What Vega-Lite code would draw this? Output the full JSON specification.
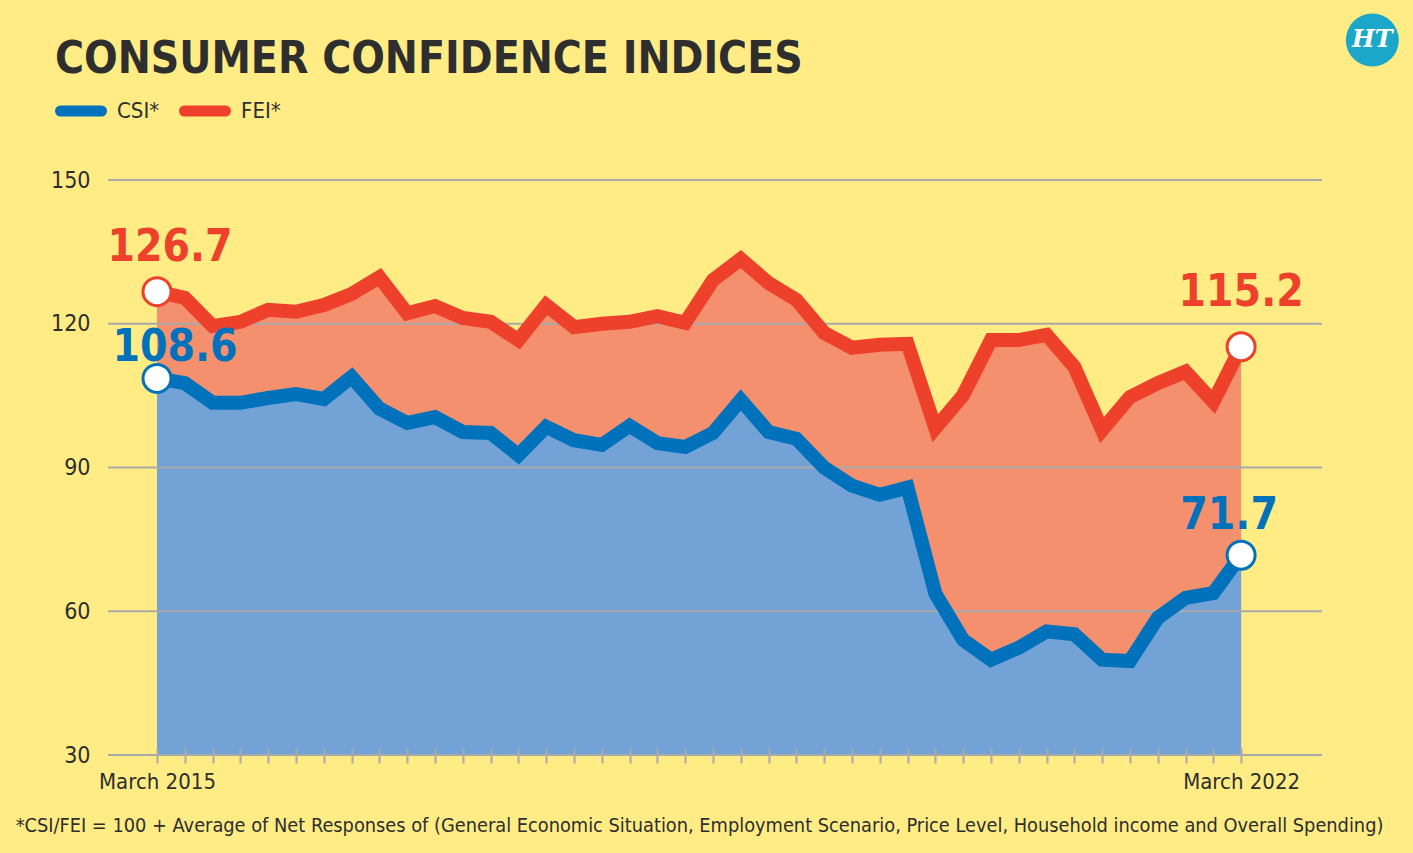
{
  "$schema": "https://vega.github.io/schema/vega-lite/v6.json",
  "width": 1214,
  "height": 575,
  "autosize": {"type": "none"},
  "padding": {"left": 108, "top": 180, "right": 91, "bottom": 98},
  "background": "#FFEC85",
  "config": {
    "view": {"stroke": null},
    "font": "Liberation Sans Narrow, DejaVu Sans Condensed, sans-serif"
  },
  "title": {
    "text": "CONSUMER CONFIDENCE INDICES",
    "anchor": "start",
    "frame": "group",
    "dx": -53,
    "offset": 0,
    "dy": 103,
    "baseline": "alphabetic",
    "font": "Liberation Sans Narrow, DejaVu Sans Condensed, sans-serif",
    "fontSize": 44,
    "fontWeight": "bold",
    "color": "#2e2e2e"
  },
  "resolve": {"axis": {"x": "independent", "y": "independent"}},
  "data": {
    "values": [
      {"i": 0, "series": "CSI*", "value": 108.6}, {"i": 0, "series": "FEI*", "value": 126.7},
      {"i": 1, "series": "CSI*", "value": 107.6}, {"i": 1, "series": "FEI*", "value": 125.4},
      {"i": 2, "series": "CSI*", "value": 103.5}, {"i": 2, "series": "FEI*", "value": 119.5},
      {"i": 3, "series": "CSI*", "value": 103.5}, {"i": 3, "series": "FEI*", "value": 120.4},
      {"i": 4, "series": "CSI*", "value": 104.5}, {"i": 4, "series": "FEI*", "value": 122.9},
      {"i": 5, "series": "CSI*", "value": 105.3}, {"i": 5, "series": "FEI*", "value": 122.5},
      {"i": 6, "series": "CSI*", "value": 104.3}, {"i": 6, "series": "FEI*", "value": 123.9},
      {"i": 7, "series": "CSI*", "value": 108.9}, {"i": 7, "series": "FEI*", "value": 126.2},
      {"i": 8, "series": "CSI*", "value": 102.3}, {"i": 8, "series": "FEI*", "value": 129.7},
      {"i": 9, "series": "CSI*", "value": 99.3}, {"i": 9, "series": "FEI*", "value": 122.2},
      {"i": 10, "series": "CSI*", "value": 100.5}, {"i": 10, "series": "FEI*", "value": 123.7},
      {"i": 11, "series": "CSI*", "value": 97.4}, {"i": 11, "series": "FEI*", "value": 121.2},
      {"i": 12, "series": "CSI*", "value": 97.2}, {"i": 12, "series": "FEI*", "value": 120.4},
      {"i": 13, "series": "CSI*", "value": 92.6}, {"i": 13, "series": "FEI*", "value": 116.6},
      {"i": 14, "series": "CSI*", "value": 98.5}, {"i": 14, "series": "FEI*", "value": 123.9},
      {"i": 15, "series": "CSI*", "value": 95.7}, {"i": 15, "series": "FEI*", "value": 119.3},
      {"i": 16, "series": "CSI*", "value": 94.7}, {"i": 16, "series": "FEI*", "value": 120.0},
      {"i": 17, "series": "CSI*", "value": 98.7}, {"i": 17, "series": "FEI*", "value": 120.4},
      {"i": 18, "series": "CSI*", "value": 95.1}, {"i": 18, "series": "FEI*", "value": 121.6},
      {"i": 19, "series": "CSI*", "value": 94.3}, {"i": 19, "series": "FEI*", "value": 120.2},
      {"i": 20, "series": "CSI*", "value": 97.2}, {"i": 20, "series": "FEI*", "value": 129.1},
      {"i": 21, "series": "CSI*", "value": 104.1}, {"i": 21, "series": "FEI*", "value": 133.5},
      {"i": 22, "series": "CSI*", "value": 97.4}, {"i": 22, "series": "FEI*", "value": 128.5},
      {"i": 23, "series": "CSI*", "value": 96.0}, {"i": 23, "series": "FEI*", "value": 125.0},
      {"i": 24, "series": "CSI*", "value": 90.0}, {"i": 24, "series": "FEI*", "value": 118.1},
      {"i": 25, "series": "CSI*", "value": 86.2}, {"i": 25, "series": "FEI*", "value": 115.0},
      {"i": 26, "series": "CSI*", "value": 84.3}, {"i": 26, "series": "FEI*", "value": 115.6},
      {"i": 27, "series": "CSI*", "value": 85.8}, {"i": 27, "series": "FEI*", "value": 115.8},
      {"i": 28, "series": "CSI*", "value": 63.7}, {"i": 28, "series": "FEI*", "value": 98.2},
      {"i": 29, "series": "CSI*", "value": 54.0}, {"i": 29, "series": "FEI*", "value": 105.1},
      {"i": 30, "series": "CSI*", "value": 49.9}, {"i": 30, "series": "FEI*", "value": 116.6},
      {"i": 31, "series": "CSI*", "value": 52.4}, {"i": 31, "series": "FEI*", "value": 116.6},
      {"i": 32, "series": "CSI*", "value": 55.8}, {"i": 32, "series": "FEI*", "value": 117.7},
      {"i": 33, "series": "CSI*", "value": 55.2}, {"i": 33, "series": "FEI*", "value": 111.0},
      {"i": 34, "series": "CSI*", "value": 49.9}, {"i": 34, "series": "FEI*", "value": 97.8},
      {"i": 35, "series": "CSI*", "value": 49.6}, {"i": 35, "series": "FEI*", "value": 104.7},
      {"i": 36, "series": "CSI*", "value": 58.6}, {"i": 36, "series": "FEI*", "value": 107.6},
      {"i": 37, "series": "CSI*", "value": 62.8}, {"i": 37, "series": "FEI*", "value": 110.0},
      {"i": 38, "series": "CSI*", "value": 63.8}, {"i": 38, "series": "FEI*", "value": 103.7},
      {"i": 39, "series": "CSI*", "value": 71.7}, {"i": 39, "series": "FEI*", "value": 115.2}
    ]
  },
  "layer": [
    {
      "encoding": {
        "x": {
          "field": "i",
          "type": "quantitative",
          "scale": {"domain": [-1.763, 41.91], "nice": false, "zero": false},
          "axis": {
            "values": [0,1,2,3,4,5,6,7,8,9,10,11,12,13,14,15,16,17,18,19,20,21,22,23,24,25,26,27,28,29,30,31,32,33,34,35,36,37,38,39],
            "labelExpr": "datum.value == 0 ? 'March 2015' : (datum.value == 39 ? 'March 2022' : '')",
            "labelOverlap": false,
            "labelFlush": false,
            "labelFontSize": 22,
            "labelColor": "#2e2e2e",
            "labelPadding": 8,
            "domain": false,
            "grid": false,
            "ticks": true,
            "tickColor": "#A9A9A9",
            "tickWidth": 2,
            "tickSize": 15,
            "offset": -7,
            "zindex": 1,
            "title": "*CSI/FEI = 100 + Average of Net Responses of (General Economic Situation, Employment Scenario, Price Level, Household income and Overall Spending)",
            "titleFontSize": 19.8,
            "titleFontWeight": "normal",
            "titleColor": "#2e2e2e",
            "titleX": 591,
            "titleY": 83,
            "titleAlign": "center",
            "titleBaseline": "alphabetic"
          }
        },
        "y": {
          "field": "value",
          "type": "quantitative",
          "scale": {"domain": [30, 150], "nice": false, "zero": false},
          "axis": {
            "values": [30, 60, 90, 120, 150],
            "labelFontSize": 23,
            "labelColor": "#2e2e2e",
            "labelPadding": 18,
            "domain": false,
            "ticks": false,
            "grid": false,
            "title": null
          }
        }
      },
      "layer": [
        {
          "transform": [{"filter": "datum.series == 'FEI*'"}],
          "mark": {"type": "area", "color": "#F5906F", "opacity": 1},
          "encoding": {"y2": {"datum": 30}}
        },
        {
          "transform": [{"filter": "datum.series == 'CSI*'"}],
          "mark": {"type": "area", "color": "#73A3D6", "opacity": 1},
          "encoding": {"y2": {"datum": 30}}
        },
        {
          "data": {"values": [{"g": 30}, {"g": 60}, {"g": 90}, {"g": 120}, {"g": 150}]},
          "mark": {"type": "rule", "color": "#A9A9A9", "strokeWidth": 2},
          "encoding": {"x": null, "y": {"field": "g", "type": "quantitative"}}
        },
        {
          "mark": {"type": "line", "strokeWidth": 14, "strokeJoin": "miter"},
          "encoding": {
            "color": {
              "field": "series",
              "type": "nominal",
              "scale": {"domain": ["CSI*", "FEI*"], "range": ["#0072BC", "#EE412B"]},
              "legend": {
                "orient": "none",
                "legendX": -53,
                "legendY": -95,
                "direction": "horizontal",
                "title": null,
                "symbolType": "M-1,0L1,0",
                "symbolSize": 1681,
                "symbolStrokeWidth": 11,
                "labelFontSize": 22,
                "labelColor": "#2e2e2e",
                "labelOffset": 10,
                "columnPadding": 2,
                "encode": {"symbols": {"update": {"strokeCap": {"value": "round"}}}}
              }
            }
          }
        },
        {
          "transform": [{"filter": "datum.i == 0 || datum.i == 39"}],
          "mark": {"type": "point", "shape": "circle", "filled": false, "fill": "white", "fillOpacity": 1, "strokeWidth": 3, "size": 784, "opacity": 1},
          "encoding": {
            "stroke": {
              "field": "series",
              "type": "nominal",
              "scale": {"domain": ["CSI*", "FEI*"], "range": ["#0072BC", "#EE412B"]},
              "legend": null
            }
          }
        },
        {
          "transform": [{"filter": "datum.i == 0 && datum.series == 'FEI*'"}],
          "mark": {"type": "text", "fontSize": 44, "fontWeight": "bold", "color": "#EE412B", "baseline": "alphabetic", "dx": 13, "dy": -31},
          "encoding": {"text": {"field": "value", "type": "quantitative", "format": ".1f"}}
        },
        {
          "transform": [{"filter": "datum.i == 0 && datum.series == 'CSI*'"}],
          "mark": {"type": "text", "fontSize": 44, "fontWeight": "bold", "color": "#0072BC", "baseline": "alphabetic", "dx": 18, "dy": -17},
          "encoding": {"text": {"field": "value", "type": "quantitative", "format": ".1f"}}
        },
        {
          "transform": [{"filter": "datum.i == 39 && datum.series == 'FEI*'"}],
          "mark": {"type": "text", "fontSize": 44, "fontWeight": "bold", "color": "#EE412B", "baseline": "alphabetic", "dx": 0, "dy": -41},
          "encoding": {"text": {"field": "value", "type": "quantitative", "format": ".1f"}}
        },
        {
          "transform": [{"filter": "datum.i == 39 && datum.series == 'CSI*'"}],
          "mark": {"type": "text", "fontSize": 44, "fontWeight": "bold", "color": "#0072BC", "baseline": "alphabetic", "dx": -12, "dy": -26},
          "encoding": {"text": {"field": "value", "type": "quantitative", "format": ".1f"}}
        }
      ]
    },
    {
      "data": {"values": [{"logo": "HT"}]},
      "mark": {"type": "point", "shape": "circle", "filled": true, "color": "#1BA7C9", "size": 2809, "opacity": 1},
      "encoding": {
        "x": {"datum": 43.72, "type": "quantitative", "scale": {"domain": [-1.763, 41.91], "nice": false, "zero": false}, "axis": null},
        "y": {"datum": 179.2, "type": "quantitative", "scale": {"domain": [30, 150], "nice": false, "zero": false}, "axis": null}
      }
    },
    {
      "data": {"values": [{"logo": "HT"}]},
      "mark": {"type": "text", "font": "DejaVu Serif", "fontSize": 24, "fontWeight": "bold", "fontStyle": "italic", "color": "white", "baseline": "middle", "align": "center"},
      "encoding": {
        "x": {"datum": 43.72, "type": "quantitative", "scale": {"domain": [-1.763, 41.91], "nice": false, "zero": false}, "axis": null},
        "y": {"datum": 179.2, "type": "quantitative", "scale": {"domain": [30, 150], "nice": false, "zero": false}, "axis": null},
        "text": {"field": "logo"}
      }
    }
  ]
}
